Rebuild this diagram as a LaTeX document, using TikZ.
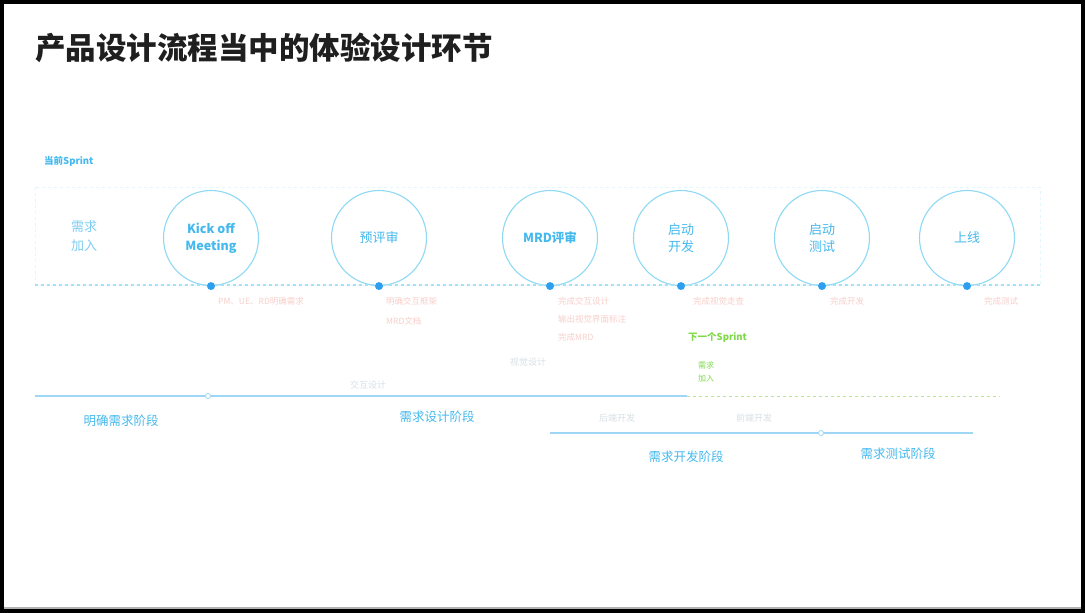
\documentclass[tikz,border=0pt]{standalone}
\usepackage{fontspec}
\newfontfamily\cjk{Noto Sans CJK SC}
\definecolor{cyanline}{HTML}{8ED9F4}
\definecolor{cyantext}{HTML}{45B9EE}
\definecolor{dotblue}{HTML}{2E9EF0}
\definecolor{faintred}{HTML}{F8CFCA}
\definecolor{faintgray}{HTML}{D8E0E4}
\definecolor{greentext}{HTML}{7FD94A}
\definecolor{stageline}{HTML}{9ED6F6}
\tikzset{
  x=1pt,y=-1pt,
  every node/.style={font=\cjk, inner sep=0pt},
  milestone/.style={circle, draw=cyanline, line width=1.1pt, minimum size=95pt, text=cyantext, align=center, font=\cjk\fontsize{13}{17}\selectfont},
  milestonebold/.style={milestone, font=\cjk\bfseries\fontsize{12.5}{17}\selectfont},
  note/.style={text=faintred, font=\cjk\fontsize{8.5}{10}\selectfont, anchor=west},
  graynote/.style={text=faintgray, font=\cjk\fontsize{9}{10}\selectfont},
  stagelabel/.style={text=cyantext, font=\cjk\fontsize{12.5}{14}\selectfont},
  dot/.style={circle, fill=dotblue, minimum size=8pt},
  joint/.style={circle, draw=stageline, fill=white, line width=0.8pt, minimum size=5pt},
  stagerule/.style={draw=stageline, line width=1.3pt},
}
\begin{document}
\begin{tikzpicture}
\useasboundingbox (0,0) rectangle (1085,613);
\fill[black] (0,0) rectangle (1085,613);
\fill[white] (4,4) rectangle (1081,607);
\fill[gray!60] (4,607) rectangle (1081,609);

% title
\node[anchor=west, text=black!88, font=\cjk\bfseries\fontsize{30.5}{34}\selectfont] (title) at (35,48) {产品设计流程当中的体验设计环节};

% current sprint frame
\draw[cyanline!25, dashed, line width=0.6pt] (35,187) rectangle (1040,285);
\node[text=cyantext, font=\cjk\bfseries\fontsize{9.5}{11}\selectfont, anchor=west] (cursprint) at (44,161) {当前Sprint};
\node[text=cyantext!70, align=center, font=\cjk\fontsize{13}{19}\selectfont] (join) at (84,236) {需求\\加入};

% milestones
\node[milestonebold] (kick) at (211,238) {Kick off\\Meeting};
\node[milestone] (pre) at (379,238) {预评审};
\node[milestonebold] (mrd) at (550,238) {MRD评审};
\node[milestone] (dev) at (681,238) {启动\\开发};
\node[milestone] (test) at (822,238) {启动\\测试};
\node[milestone] (live) at (967,238) {上线};

% timeline
\coordinate (tlstart) at (35,285);
\coordinate (tlend) at (1040,285);
\draw[cyanline!80, dashed, line width=1.1pt] (tlstart) -- (tlend);
\foreach \n in {kick,pre,mrd,dev,test,live}{
  \node[dot] (\n dot) at (\n.south) {};
}

% notes under milestones
\node[note] (n1) at (218,301) {PM、UE、RD明确需求};
\node[note] (n2) at (386,301) {明确交互框架};
\node[note] (n3) at (386,321) {MRD文档};
\node[note] (n4) at (558,301) {完成交互设计};
\node[note] (n5) at (558,319) {输出视觉界面标注};
\node[note] (n6) at (558,337) {完成MRD};
\node[note] (n7) at (693,301) {完成视觉走查};
\node[note] (n8) at (830,301) {完成开发};
\node[note] (n9) at (984,301) {完成测试};

% next sprint
\node[text=greentext, font=\cjk\bfseries\fontsize{9.5}{11}\selectfont, anchor=west] (nextsprint) at (688,337) {下一个Sprint};
\node[text=greentext, align=left, anchor=west, font=\cjk\fontsize{8}{13}\selectfont] (nextjoin) at (698,372) {需求\\加入};

% design tasks
\node[graynote] (ixd) at (368,385) {交互设计};
\node[graynote] (vis) at (528,362) {视觉设计};

% stage rule 1
\coordinate (s1a) at (35,396);
\coordinate (s1b) at (687,396);
\coordinate (gend) at (1000,396);
\draw[stagerule] (s1a) -- (s1b);
\draw[greentext!60, dashed, line width=1pt] (s1b) -- (gend);
\node[joint] (j1) at (208,396) {};
\node[stagelabel] (st1) at (121,421) {明确需求阶段};
\node[stagelabel] (st2) at (437,417) {需求设计阶段};

% stage rule 2
\node[graynote] (be) at (617,418) {后端开发};
\node[graynote] (fe) at (754,418) {前端开发};
\coordinate (s2a) at (550,433);
\coordinate (s2b) at (973,433);
\draw[stagerule] (s2a) -- (s2b);
\node[joint] (j2) at (821,433) {};
\node[stagelabel] (st3) at (686,457) {需求开发阶段};
\node[stagelabel] (st4) at (898,454) {需求测试阶段};
\end{tikzpicture}
\end{document}
